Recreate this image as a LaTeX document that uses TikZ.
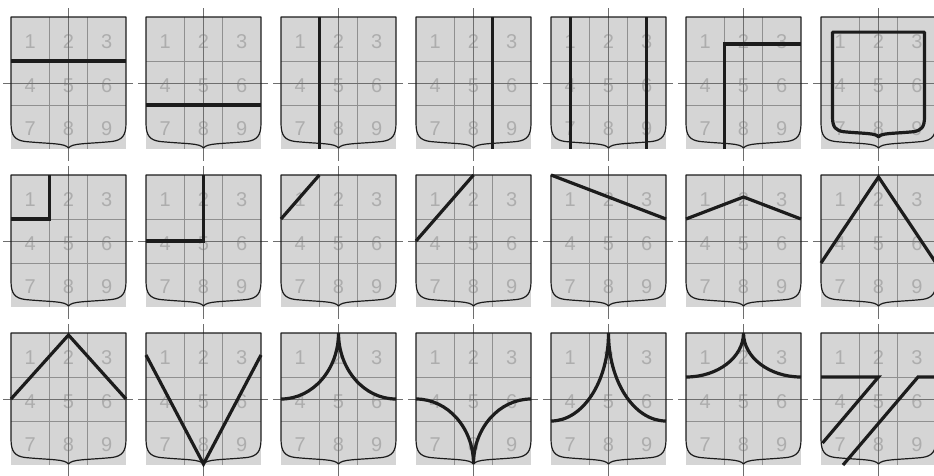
\documentclass[tikz,border=0pt]{standalone}
\usepackage{fontspec}
\setmainfont{Liberation Sans}
\definecolor{shfill}{HTML}{D5D5D5}
\definecolor{gridc}{HTML}{909090}
\definecolor{axisc}{HTML}{6E6E6E}
\definecolor{digc}{HTML}{ADADAD}
\definecolor{inkc}{HTML}{1C1C1C}
\tikzset{
  gridline/.style={gridc, line width=0.7pt},
  axisline/.style={axisc, line width=0.8pt},
  outline/.style={inkc, line width=1.2pt, line join=round},
  heavy/.style={inkc, line width=3.2pt, line cap=butt, line join=miter},
  digit/.style={text=digc, font=\fontsize{20}{20}\selectfont, inner sep=0pt},
}
\newcommand\shieldoutline[1]{%
  \draw[#1] (0,0) -- (0,106) .. controls (0,119) and (4,123) .. (14,124.5)
    .. controls (40,127) and (54,126) .. (57.5,131)
    .. controls (61,126) and (75,127) .. (101,124.5)
    .. controls (111,123) and (115,119) .. (115,106) -- (115,0) -- cycle;}
\newcommand\shield[3]{%
  \begin{scope}[shift={(#1,#2)}]
    \fill[shfill] (0,0) rectangle (115,132);
    \foreach \n/\cx/\cy in {1/19.2/25,2/57.5/25,3/95.8/25,4/19.2/69,5/57.5/69,6/95.8/69,7/19.2/112,8/57.5/112,9/95.8/112}
      \node[digit] (dg-#1-#2-\n) at (\cx,\cy) {\n};
    \draw[gridline] (38.33,0) -- (38.33,132) (76.67,0) -- (76.67,132)
                    (0,44) -- (115,44) (0,88) -- (115,88);
    \draw[axisline] (-8,66) -- (122,66) (57.5,-9) -- (57.5,144);
    \shieldoutline{outline}
    #3
  \end{scope}}
\begin{document}
\begin{tikzpicture}[x=1pt,y=-1pt]
\useasboundingbox (0,0) rectangle (934,475);
% row 1
\shield{11}{17}{\draw[heavy] (0,44) -- (115,44);}
\shield{146}{17}{\draw[heavy] (0,88) -- (115,88);}
\shield{281}{17}{\draw[heavy] (38.33,0) -- (38.33,132);}
\shield{416}{17}{\draw[heavy] (76.67,0) -- (76.67,132);}
\shield{551}{17}{\draw[heavy] (19.2,0) -- (19.2,132) (95.8,0) -- (95.8,132);}
\shield{686}{17}{\draw[heavy] (38.33,132) -- (38.33,27) -- (115,27);}
\shield{821}{17}{\begin{scope}[shift={(57.5,75.6)},scale=0.8,shift={(-57.5,-75.6)}]
  \shieldoutline{heavy,line join=round}\end{scope}}
% row 2
\shield{11}{175}{\draw[heavy] (38.33,0) -- (38.33,44) -- (0,44);}
\shield{146}{175}{\draw[heavy] (57.5,0) -- (57.5,66) -- (0,66);}
\shield{281}{175}{\draw[heavy] (38.33,0) -- (0,44);}
\shield{416}{175}{\draw[heavy] (57.5,0) -- (0,66);}
\shield{551}{175}{\draw[heavy] (0,0) -- (115,44);}
\shield{686}{175}{\draw[heavy] (0,44) -- (57.5,22) -- (115,44);}
\shield{821}{175}{\draw[heavy] (0,88) -- (57.5,2) -- (115,88);}
% row 3
\shield{11}{333}{\draw[heavy] (0,66) -- (57.5,2) -- (115,66);}
\shield{146}{333}{\draw[heavy] (0,22) -- (57.5,131) -- (115,22);}
\shield{281}{333}{\draw[heavy] (0,66) .. controls (31.8,66) and (57.5,36.5) .. (57.5,0)
   .. controls (57.5,36.5) and (83.2,66) .. (115,66);}
\shield{416}{333}{\draw[heavy] (0,66) .. controls (31.8,66) and (57.5,95.1) .. (57.5,131)
   .. controls (57.5,95.1) and (83.2,66) .. (115,66);}
\shield{551}{333}{\draw[heavy] (0,88) .. controls (31.8,88) and (57.5,48.6) .. (57.5,0)
   .. controls (57.5,48.6) and (83.2,88) .. (115,88);}
\shield{686}{333}{\draw[heavy] (0,44) .. controls (31.8,44) and (57.5,24.3) .. (57.5,0)
   .. controls (57.5,24.3) and (83.2,44) .. (115,44);}
\shield{821}{333}{\draw[heavy] (0,44) -- (57.5,44) -- (1.5,110) (115,44) -- (97,44) -- (22,132);}
\end{tikzpicture}
\end{document}
